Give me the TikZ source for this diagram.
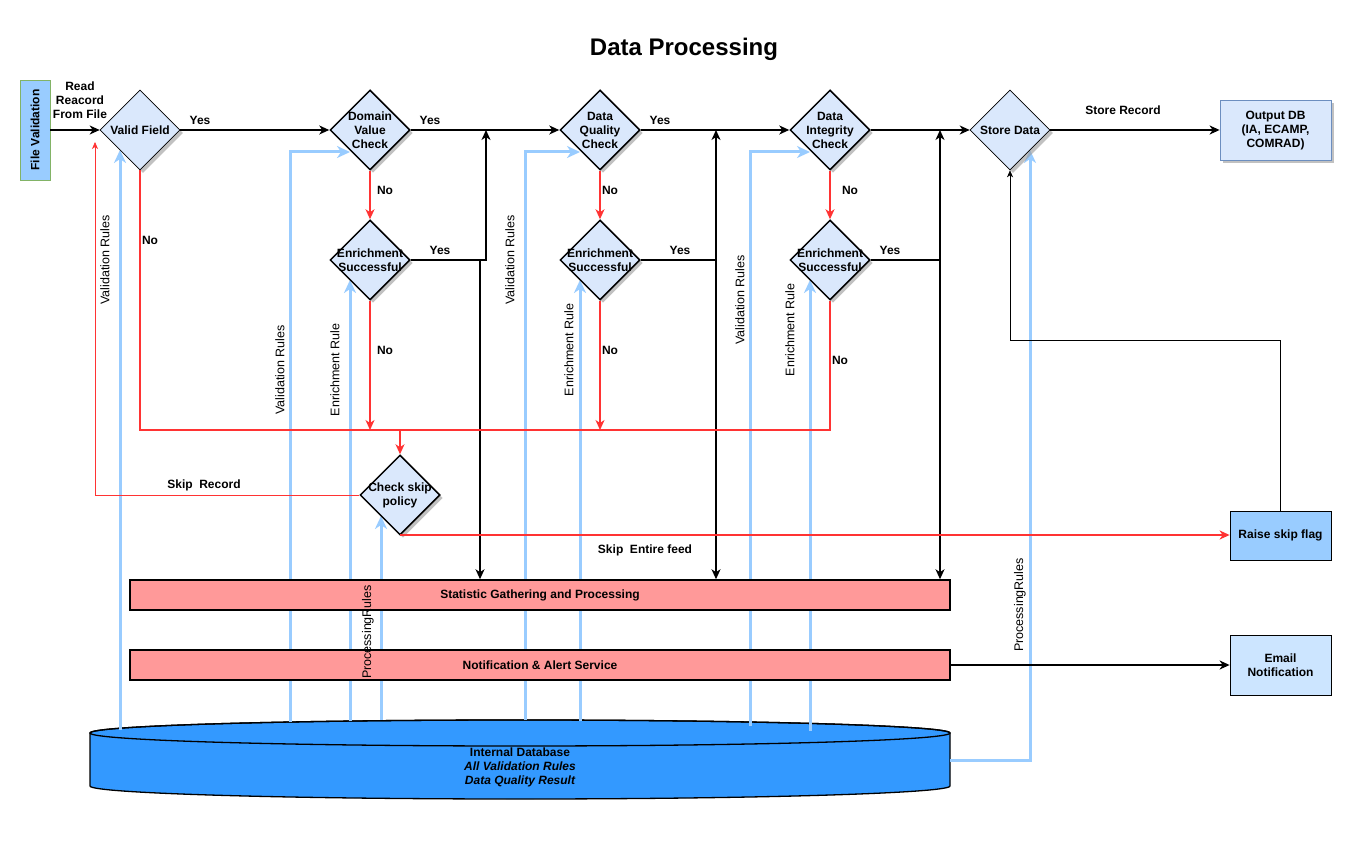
\documentclass[tikz,border=0pt]{standalone}
\usepackage{fontspec}
\setmainfont{Liberation Sans}
\usetikzlibrary{arrows.meta,shapes.geometric,shadows,calc}
\definecolor{lblue}{HTML}{DAE8FC}
\definecolor{rblue}{HTML}{99CCFF}
\definecolor{ered}{HTML}{FF3333}
\definecolor{bpink}{HTML}{FF9999}
\definecolor{dbblue}{HTML}{3399FF}
\definecolor{odbord}{HTML}{6C8EBF}
\definecolor{fvgreen}{HTML}{82B366}
\definecolor{emailfill}{HTML}{CCE5FF}
\pgfdeclarelayer{back}
\pgfdeclarelayer{bg}
\pgfsetlayers{back,bg,main}
\begin{document}
\begin{tikzpicture}[x=1pt,y=-1pt,
  lbl/.style={font=\bfseries\fontsize{12}{14}\selectfont, align=center, inner sep=0},
  rlbl/.style={font=\fontsize{12.5}{14}\selectfont, rotate=90, inner sep=0},
  shad/.style={drop shadow={shadow xshift=3pt, shadow yshift=-3pt, fill=black!40, opacity=0.6}},
  dia/.style={diamond, draw, line width=1.5pt, fill=lblue, minimum width=80pt, minimum height=80pt, inner sep=0, aspect=1, shad},
  thindia/.style={dia, line width=0.6pt},
  bk/.style={line width=1.5pt, -{Stealth[length=10pt,width=9pt,inset=3pt]}},
  rd/.style={draw=ered, line width=1.6pt, -{Stealth[length=10pt,width=9pt,inset=3pt]}},
  rdline/.style={draw=ered, line width=1.6pt},
  bl/.style={draw=rblue, line width=3pt, -{Stealth[length=13pt,width=12pt,inset=4pt]}},
  thinar/.style={line width=0.7pt, -{Stealth[length=7pt,width=6pt,inset=2pt]}},
  bar/.style={rectangle, draw, line width=1.5pt, fill=bpink, minimum width=820pt, minimum height=30pt, inner sep=0, font=\bfseries\fontsize{12}{14}\selectfont},
  box/.style={rectangle, draw, line width=0.8pt, inner sep=0, align=center, font=\bfseries\fontsize{12}{14}\selectfont}
]
\begin{pgfonlayer}{back}
\fill[white] (0,0) rectangle (1362,842);
\end{pgfonlayer}
\useasboundingbox (0,0) rectangle (1362,842);

% title
\node[font=\bfseries\fontsize{24}{28}\selectfont, inner sep=0] (title) at (684,49) {Data Processing};

% nodes
\node[box, draw=fvgreen, fill=rblue, minimum width=30pt, minimum height=100pt] (fv) at (35,130) {};
\node[lbl, rotate=90] (fvt) at (fv.center) {File Validation};
\node[thindia, label={[lbl]center:Valid Field}] (vf) at (140,130) {};
\node[dia, label={[lbl]center:Domain\\Value\\Check}] (dv) at (370,130) {};
\node[dia, label={[lbl]center:Enrichment\\Successful}] (e1) at (370,260) {};
\node[dia, label={[lbl]center:Data\\Quality\\Check}] (dq) at (600,130) {};
\node[dia, label={[lbl]center:Enrichment\\Successful}] (e2) at (600,260) {};
\node[dia, label={[lbl]center:Data\\Integrity\\Check}] (di) at (830,130) {};
\node[dia, label={[lbl]center:Enrichment\\Successful}] (e3) at (830,260) {};
\node[thindia, label={[lbl]center:Store Data}] (sd) at (1010,130) {};
\node[dia, label={[lbl]center:Check skip\\policy}] (cs) at (400,495) {};
\node[box, draw=odbord, fill=lblue, minimum width=111pt, minimum height=60pt, shad] (odb) at (1275.5,130.5) {Output DB\\(IA, ECAMP,\\COMRAD)};
\node[box, fill=rblue, minimum width=101pt, minimum height=49pt] (rsf) at (1280.5,535.5) {Raise skip flag};
\node[box, fill=emailfill, minimum width=101pt, minimum height=60pt] (email) at (1280.5,665) {Email\\Notification};
\node[bar] (stat) at (540,595) {Statistic Gathering and Processing};
\node[bar] (notif) at (540,665) {Notification \& Alert Service};

% cylinder + blue rule arrows on background layer
\begin{pgfonlayer}{bg}
\path[fill=dbblue, draw, line width=1.3pt] (90,733) -- (90,786) arc[start angle=180, end angle=360, x radius=430pt, y radius=13pt] -- (950,733) arc[start angle=0, end angle=180, x radius=430pt, y radius=13pt] -- cycle;
\draw[line width=1.3pt] (520,733) ellipse [x radius=430pt, y radius=13pt];
\coordinate (b1) at (120,730); \coordinate (t1) at (120,150);
\coordinate (b2) at (290,722); \coordinate (m2) at (290,152); \coordinate (t2) at (350,152);
\coordinate (b3) at (350,721); \coordinate (t3) at (350,280);
\coordinate (b4) at (381,720); \coordinate (t4) at (381,516);
\coordinate (b5) at (525,720); \coordinate (m5) at (525,152); \coordinate (t5) at (580,152);
\coordinate (b6) at (580,721); \coordinate (t6) at (580,280);
\coordinate (b7) at (750,726); \coordinate (m7) at (750,152); \coordinate (t7) at (810,152);
\coordinate (b8) at (810,731); \coordinate (t8) at (810,280);
\coordinate (b9) at (950,760); \coordinate (m9) at (1030,760); \coordinate (t9) at (1030,150);
\draw[bl] (b1) -- (t1);
\draw[bl] (b2) -- (m2) -- (t2);
\draw[bl] (b3) -- (t3);
\draw[bl] (b4) -- (t4);
\draw[bl] (b5) -- (m5) -- (t5);
\draw[bl] (b6) -- (t6);
\draw[bl] (b7) -- (m7) -- (t7);
\draw[bl] (b8) -- (t8);
\draw[bl] (b9) -- (m9) -- (t9);
\end{pgfonlayer}
\node[lbl, align=center] (idb) at (520,767) {Internal Database\\\itshape All Validation Rules\\\itshape Data Quality Result};

% main flow
\draw[bk] (fv.east) -- (vf.west);
\draw[bk] (vf.east) -- (dv.west);
\draw[bk] (dv.east) -- (dq.west);
\draw[bk] (dq.east) -- (di.west);
\draw[bk] (di.east) -- (sd.west);
\draw[bk] (sd.east) -- (sd.east -| odb.west);

% enrichment yes branches
\coordinate (k1) at (486,260); \coordinate (u1) at (486,130); \coordinate (d1) at (480,260);
\coordinate (k2) at (716,260); \coordinate (u2) at (716,130);
\coordinate (k3) at (940,260); \coordinate (u3) at (940,130);
\draw[bk] (e1.east) -- (k1) -- (u1);
\draw[bk] (d1) -- (d1 |- stat.north);
\draw[bk] (e2.east) -- (k2) -- (u2);
\draw[bk] (k2) -- (k2 |- stat.north);
\draw[bk] (e3.east) -- (k3) -- (u3);
\draw[bk] (k3) -- (k3 |- stat.north);

% No branches
\coordinate (rl) at (140,430); \coordinate (rr) at (830,430);
\draw[rd] (dv.south) -- (e1.north);
\draw[rd] (dq.south) -- (e2.north);
\draw[rd] (di.south) -- (e3.north);
\draw[rdline] (vf.south) -- (rl) -- (rr) -- (e3.south);
\draw[rd] (e1.south) -- (e1.south |- rl);
\draw[rd] (e2.south) -- (e2.south |- rl);
\draw[rd] (cs.north |- rl) -- (cs.north);
\coordinate (cse) at (400,535);
\draw[rd] (cse) -- (cse -| rsf.west);
\coordinate (sk1) at (95,495); \coordinate (sk2) at (95,142);
\draw[thinar, draw=ered] (cs.west) -- (sk1) -- (sk2);

% skip flag -> store data
\coordinate (rk) at (1010,340);
\draw[thinar] (rsf.north) |- (rk) -- (sd.south);
% notification -> email
\draw[bk] (notif.east) -- (email.west);

% labels
\node[lbl] (l0) at (80,100) {Read\\Reacord\\From File};
\node[lbl] (y1) at (200,120) {Yes};
\node[lbl] (y2) at (430,120) {Yes};
\node[lbl] (y3) at (660,120) {Yes};
\node[lbl] (y4) at (440,250) {Yes};
\node[lbl] (y5) at (680,250) {Yes};
\node[lbl] (y6) at (890,250) {Yes};
\node[lbl] (n1) at (385,190) {No};
\node[lbl] (n2) at (610,190) {No};
\node[lbl] (n3) at (850,190) {No};
\node[lbl] (n4) at (150,240) {No};
\node[lbl] (n5) at (385,350) {No};
\node[lbl] (n6) at (610,350) {No};
\node[lbl] (n7) at (840,360) {No};
\node[lbl] (sr) at (204,485) {Skip\ \ Record};
\node[lbl] (sef) at (645,550) {Skip\ \ Entire feed};
\node[lbl] (str) at (1123,110) {Store Record};

\node[rlbl] (v1) at (105,260) {Validation Rules};
\node[rlbl] (v2) at (280,370) {Validation Rules};
\node[rlbl] (v3) at (510,260) {Validation Rules};
\node[rlbl] (v4) at (740,300) {Validation Rules};
\node[rlbl] (r1) at (335,370) {Enrichment Rule};
\node[rlbl] (r2) at (569,350) {Enrichment Rule};
\node[rlbl] (r3) at (790,330) {Enrichment Rule};
\node[rlbl] (p1) at (368,632) {ProcessingRules};
\node[rlbl] (p2) at (1020,605) {ProcessingRules};
\end{tikzpicture}
\end{document}
